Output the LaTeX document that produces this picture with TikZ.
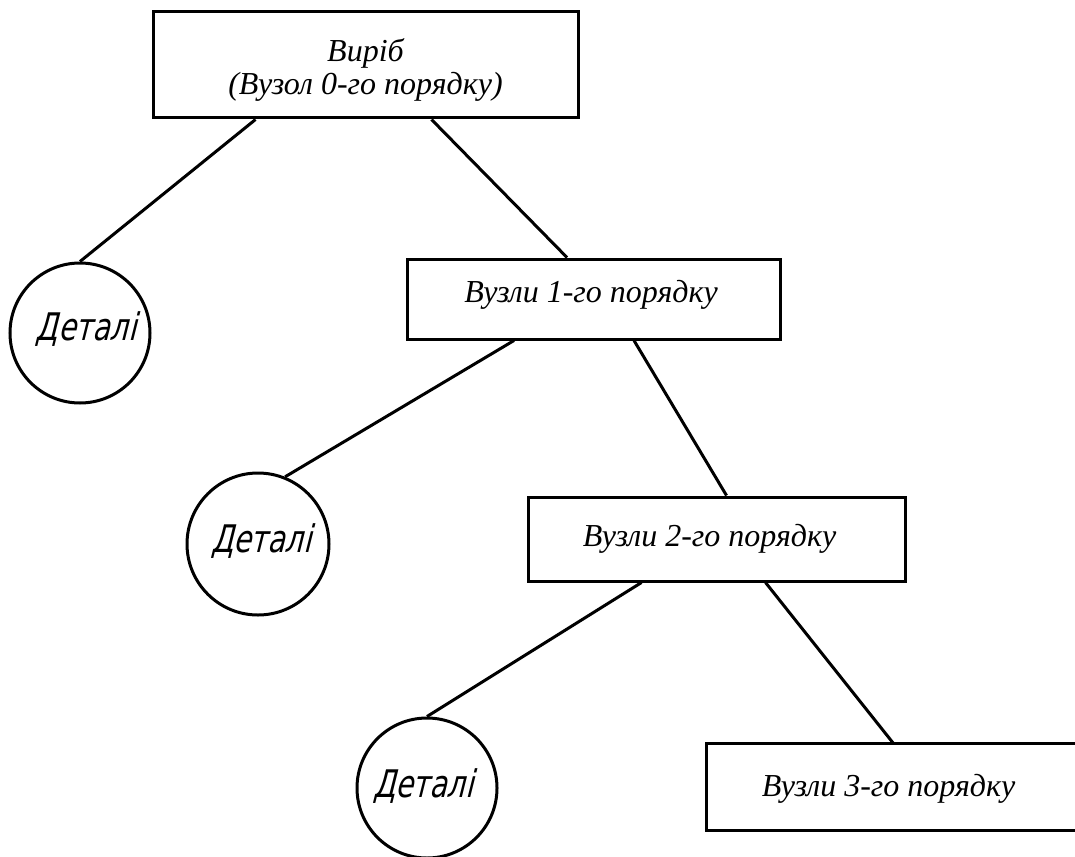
\documentclass[tikz,border=0pt]{standalone}
\usepackage{fontspec}
\setmainfont{Liberation Serif}
\newfontfamily\gost{DejaVu Sans}[FakeSlant=0.25,FakeStretch=0.75]
\newcommand{\shiftup}[2]{\raisebox{#1}[\height][\depth]{#2}}
\begin{document}
\begin{tikzpicture}[x=1pt,y=-1pt,
  line width=3pt,
  boxnode/.style={draw,rectangle,inner sep=0pt,align=center,
    font=\fontsize{32}{33}\selectfont\itshape},
  partnode/.style={draw,circle,inner sep=0pt,minimum size=140pt,
    font=\gost\fontsize{38}{40}\selectfont},
  link/.style={line width=3pt}]
\useasboundingbox[fill=white] (0,0) rectangle (1075,856);
\node[boxnode,minimum width=425pt,minimum height=106pt] (top) at (365.5,65)
  {\shiftup{-6pt}{\begin{tabular}{@{}c@{}}Виріб\\(Вузол 0-го порядку)\end{tabular}}};
\node[boxnode,minimum width=373pt,minimum height=80pt] (b1) at (594,299) {\shiftup{4pt}{\hspace*{-6pt}Вузли 1-го порядку}};
\node[boxnode,minimum width=377pt,minimum height=84pt] (b2) at (716.5,539) {\hspace*{-14pt}Вузли 2-го порядку};
\node[boxnode,draw=none,minimum width=367pt,minimum height=84pt] (b3) at (891.5,787) {\shiftup{-2pt}{\hspace*{-6pt}Вузли 3-го порядку}};
\draw (b3.north east) -- (b3.north west) -- (b3.south west) -- (b3.south east);
\node[partnode] (c1) at (80,333) {\shiftup{4pt}{\hspace*{12pt}Деталі}};
\node[partnode,minimum size=142pt] (c2) at (258,544) {\shiftup{3pt}{\hspace*{6pt}Деталі}};
\node[partnode] (c3) at (427,788) {\shiftup{2pt}{\hspace*{-8pt}Деталі}};
\draw[link] ([xshift=104pt]top.south west) -- (c1.north);
\draw[link] ([xshift=280pt]top.south west) -- ([xshift=161pt]b1.north west);
\draw[link] ([xshift=108pt]b1.south west) -- (c2.68);
\draw[link] ([xshift=228pt]b1.south west) -- ([xshift=200pt]b2.north west);
\draw[link] ([xshift=115pt]b2.south west) -- (c3.north);
\draw[link] ([xshift=239pt]b2.south west) -- ([xshift=187pt]b3.north west);
\end{tikzpicture}
\end{document}
